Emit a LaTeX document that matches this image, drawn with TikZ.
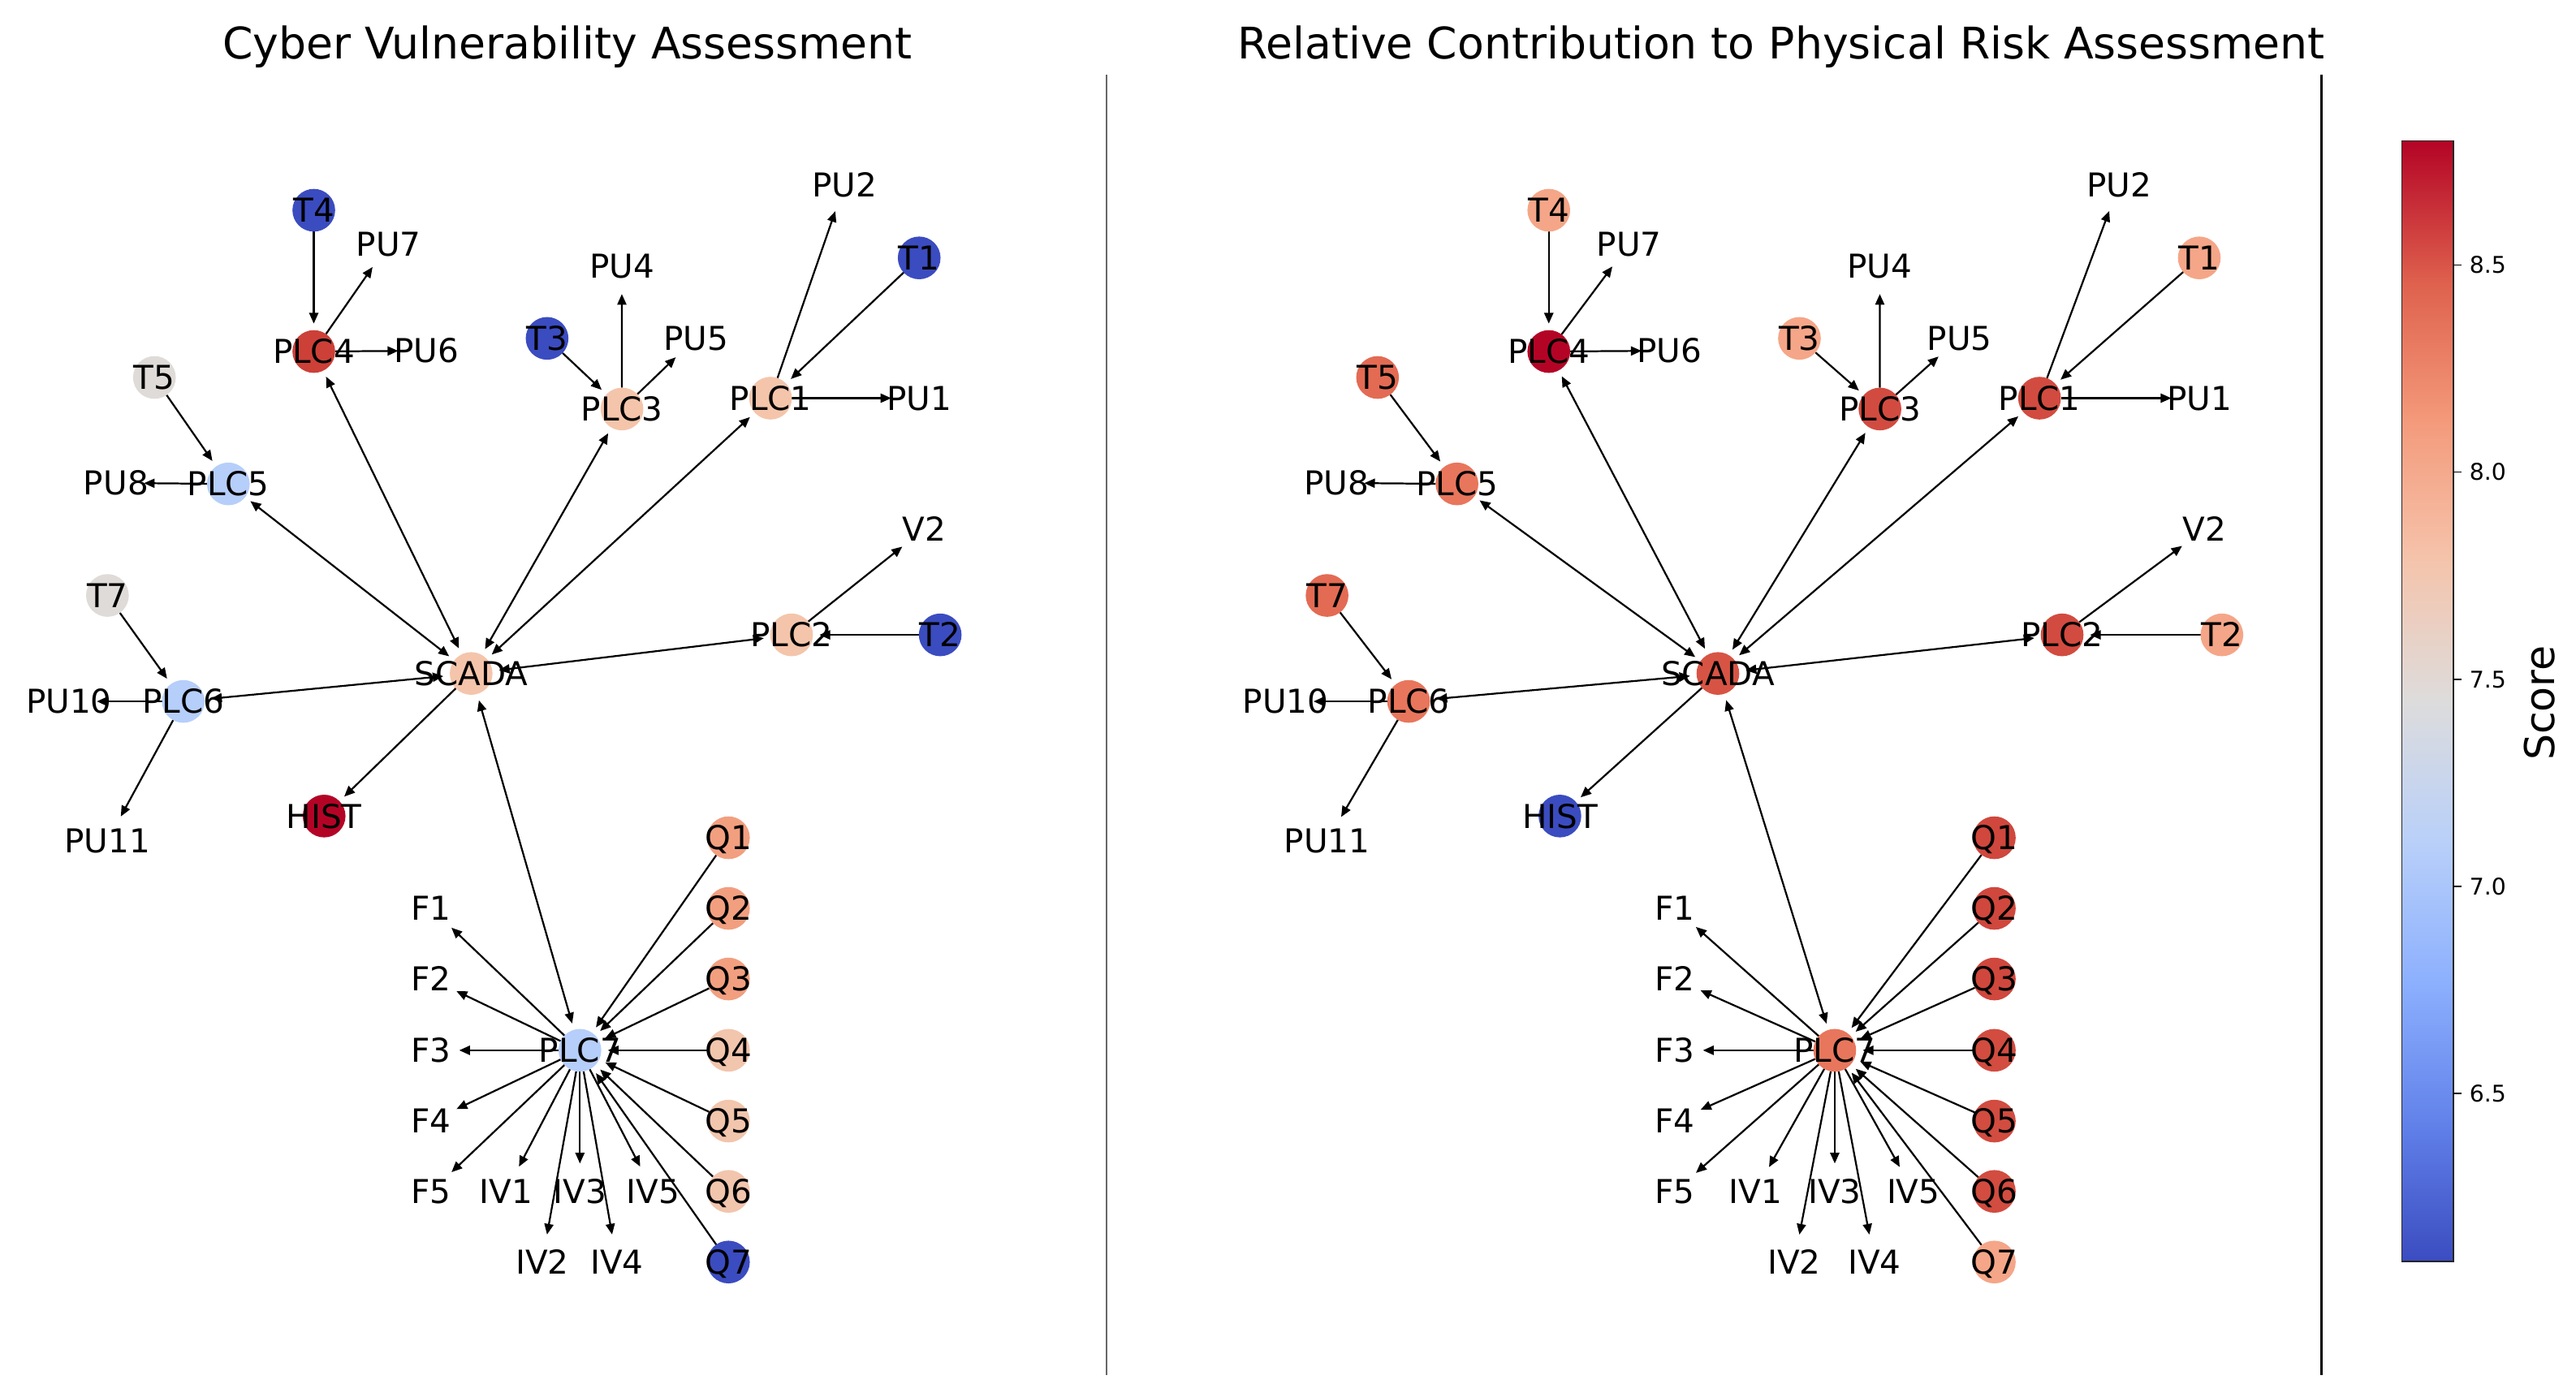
\documentclass[tikz,border=0pt]{standalone}
\usepackage{fontspec}
\setmainfont{DejaVu Sans}
\usetikzlibrary{arrows.meta,backgrounds}
% left panel colours
\definecolor{LT1}{HTML}{3B4CC0}\definecolor{LT2}{HTML}{3B4CC0}\definecolor{LT3}{HTML}{3B4CC0}\definecolor{LT4}{HTML}{3B4CC0}
\definecolor{LQ7}{HTML}{3B4CC0}\definecolor{LHIST}{HTML}{B40426}\definecolor{LPLC4}{HTML}{CC4038}
\definecolor{LSCADA}{HTML}{F4C5AB}\definecolor{LPLC1}{HTML}{F4C5AB}\definecolor{LPLC2}{HTML}{F4C5AB}\definecolor{LPLC3}{HTML}{F4C5AB}
\definecolor{LQ4}{HTML}{F2C5AD}\definecolor{LQ5}{HTML}{F2C5AD}\definecolor{LQ6}{HTML}{F2C5AD}
\definecolor{LQ1}{HTML}{F29F80}\definecolor{LQ2}{HTML}{F29F80}\definecolor{LQ3}{HTML}{F29F80}
\definecolor{LT5}{HTML}{DFDBD8}\definecolor{LT7}{HTML}{DFDBD8}
\definecolor{LPLC5}{HTML}{B6CEFA}\definecolor{LPLC6}{HTML}{B6CEFA}\definecolor{LPLC7}{HTML}{B6CEFA}
% right panel colours
\definecolor{RT1}{HTML}{F5A688}\definecolor{RT2}{HTML}{F5A688}\definecolor{RT3}{HTML}{F5A688}\definecolor{RT4}{HTML}{F5A688}
\definecolor{RQ7}{HTML}{F5A688}\definecolor{RHIST}{HTML}{3B4CC0}\definecolor{RPLC4}{HTML}{B40426}
\definecolor{RSCADA}{HTML}{D75445}\definecolor{RPLC1}{HTML}{D24B40}\definecolor{RPLC2}{HTML}{D24B40}\definecolor{RPLC3}{HTML}{D24B40}
\definecolor{RQ4}{HTML}{D24C40}\definecolor{RQ5}{HTML}{D24C40}\definecolor{RQ6}{HTML}{D24C40}
\definecolor{RQ1}{HTML}{D0473D}\definecolor{RQ2}{HTML}{D0473D}\definecolor{RQ3}{HTML}{D0473D}
\definecolor{RT5}{HTML}{E36B54}\definecolor{RT7}{HTML}{E36B54}
\definecolor{RPLC5}{HTML}{E8765C}\definecolor{RPLC6}{HTML}{E8765C}\definecolor{RPLC7}{HTML}{E8765C}
% coolwarm
\definecolor{cw0}{RGB}{59,76,192}\definecolor{cw1}{RGB}{98,130,234}\definecolor{cw2}{RGB}{141,176,254}
\definecolor{cw3}{RGB}{185,208,249}\definecolor{cw4}{RGB}{221,220,220}\definecolor{cw5}{RGB}{245,196,172}
\definecolor{cw6}{RGB}{244,154,123}\definecolor{cw7}{RGB}{222,96,77}\definecolor{cw8}{RGB}{180,4,38}

\tikzset{
  vx/.style={circle, minimum size=26pt, inner sep=0pt, outer sep=0pt},
  lbl/.style={font=\fontsize{20}{24}\selectfont, inner sep=0pt, outer sep=0pt, text height=14.6pt, text depth=0pt},
  arr/.style={line width=1.1pt, -{Triangle[length=6.5pt,width=5.5pt]}, shorten >=4pt},
  biarr/.style={line width=1.1pt, {Triangle[length=6.5pt,width=5.5pt]}-{Triangle[length=6.5pt,width=5.5pt]}, shorten >=4pt, shorten <=4pt},
  ttl/.style={font=\fontsize{26.5}{32}\selectfont, inner sep=0pt, anchor=base},
  tick/.style={font=\fontsize{14}{17}\selectfont, inner sep=0pt, anchor=west, text height=10.2pt, text depth=0pt}
}

\newcommand{\drawpanel}[1]{%
\node[vx,fill=#1T4,label={[lbl]center:T4}] (#1T4) at (191,128) {};
\node[vx,label={[lbl]center:PU7}] (#1PU7) at (236.5,148.6) {};
\node[vx,fill=#1PLC4,label={[lbl]center:PLC4}] (#1PLC4) at (191,214) {};
\node[vx,label={[lbl]center:PU6}] (#1PU6) at (259.4,213.5) {};
\node[vx,fill=#1T3,label={[lbl]center:T3}] (#1T3) at (333,206) {};
\node[vx,label={[lbl]center:PU4}] (#1PU4) at (378.5,162) {};
\node[vx,label={[lbl]center:PU5}] (#1PU5) at (423.6,205.7) {};
\node[vx,fill=#1PLC3,label={[lbl]center:PLC3}] (#1PLC3) at (378.6,249) {};
\node[vx,label={[lbl]center:PU2}] (#1PU2) at (514,112.5) {};
\node[vx,fill=#1T1,label={[lbl]center:T1}] (#1T1) at (559.5,157) {};
\node[vx,fill=#1PLC1,label={[lbl]center:PLC1}] (#1PLC1) at (469,242.4) {};
\node[vx,label={[lbl]center:PU1}] (#1PU1) at (559.5,242.4) {};
\node[vx,fill=#1T5,label={[lbl]center:T5}] (#1T5) at (94,229.8) {};
\node[vx,label={[lbl]center:PU8}] (#1PU8) at (70.6,294) {};
\node[vx,fill=#1PLC5,label={[lbl]center:PLC5}] (#1PLC5) at (139,294.6) {};
\node[vx,label={[lbl]center:V2}] (#1V2) at (562.5,322.2) {};
\node[vx,fill=#1T7,label={[lbl]center:T7}] (#1T7) at (65.4,362.5) {};
\node[vx,fill=#1PLC2,label={[lbl]center:PLC2}] (#1PLC2) at (481.8,386.5) {};
\node[vx,fill=#1T2,label={[lbl]center:T2}] (#1T2) at (572.3,386.5) {};
\node[vx,fill=#1SCADA,label={[lbl]center:SCADA}] (#1SCADA) at (286.8,410) {};
\node[vx,label={[lbl]center:PU10}] (#1PU10) at (41.9,427) {};
\node[vx,fill=#1PLC6,label={[lbl]center:PLC6}] (#1PLC6) at (111.6,427) {};
\node[vx,fill=#1HIST,label={[lbl]center:HIST}] (#1HIST) at (197.3,496.8) {};
\node[vx,label={[lbl]center:PU11}] (#1PU11) at (65.4,512) {};
\node[vx,fill=#1Q1,label={[lbl]center:Q1}] (#1Q1) at (443.4,510) {};
\node[vx,fill=#1Q2,label={[lbl]center:Q2}] (#1Q2) at (443.4,553) {};
\node[vx,fill=#1Q3,label={[lbl]center:Q3}] (#1Q3) at (443.4,596) {};
\node[vx,fill=#1Q4,label={[lbl]center:Q4}] (#1Q4) at (443.4,639.4) {};
\node[vx,fill=#1Q5,label={[lbl]center:Q5}] (#1Q5) at (443.4,682.5) {};
\node[vx,fill=#1Q6,label={[lbl]center:Q6}] (#1Q6) at (443.4,725.3) {};
\node[vx,fill=#1Q7,label={[lbl]center:Q7}] (#1Q7) at (443.4,768.3) {};
\node[vx,label={[lbl]center:F1}] (#1F1) at (262.5,553) {};
\node[vx,label={[lbl]center:F2}] (#1F2) at (262.5,596) {};
\node[vx,label={[lbl]center:F3}] (#1F3) at (262.5,639.4) {};
\node[vx,label={[lbl]center:F4}] (#1F4) at (262.5,682.5) {};
\node[vx,label={[lbl]center:F5}] (#1F5) at (262.5,725.3) {};
\node[vx,fill=#1PLC7,label={[lbl]center:PLC7}] (#1PLC7) at (353,639.4) {};
\node[vx,label={[lbl]center:IV1}] (#1IV1) at (308,725.3) {};
\node[vx,label={[lbl]center:IV2}] (#1IV2) at (330,768.3) {};
\node[vx,label={[lbl]center:IV3}] (#1IV3) at (353,725.3) {};
\node[vx,label={[lbl]center:IV4}] (#1IV4) at (375.5,768.3) {};
\node[vx,label={[lbl]center:IV5}] (#1IV5) at (397.5,725.3) {};
\begin{pgfonlayer}{background}
\draw[arr] (#1T4) -- (#1PLC4);
\draw[arr] (#1PLC4) -- (#1PU7);
\draw[arr] (#1PLC4) -- (#1PU6);
\draw[arr] (#1T3) -- (#1PLC3);
\draw[arr] (#1PLC3) -- (#1PU4);
\draw[arr] (#1PLC3) -- (#1PU5);
\draw[arr] (#1PLC1) -- (#1PU2);
\draw[arr] (#1T1) -- (#1PLC1);
\draw[arr] (#1PLC1) -- (#1PU1);
\draw[arr] (#1T5) -- (#1PLC5);
\draw[arr] (#1PLC5) -- (#1PU8);
\draw[arr] (#1PLC2) -- (#1V2);
\draw[arr] (#1T2) -- (#1PLC2);
\draw[arr] (#1T7) -- (#1PLC6);
\draw[arr] (#1PLC6) -- (#1PU10);
\draw[arr] (#1PLC6) -- (#1PU11);
\draw[biarr] (#1SCADA) -- (#1PLC5);
\draw[biarr] (#1SCADA) -- (#1PLC4);
\draw[biarr] (#1SCADA) -- (#1PLC3);
\draw[biarr] (#1SCADA) -- (#1PLC1);
\draw[biarr] (#1SCADA) -- (#1PLC2);
\draw[biarr] (#1SCADA) -- (#1PLC6);
\draw[arr] (#1SCADA) -- (#1HIST);
\draw[biarr] (#1SCADA) -- (#1PLC7);
\draw[arr] (#1PLC7) -- (#1F1);
\draw[arr] (#1PLC7) -- (#1F2);
\draw[arr] (#1PLC7) -- (#1F3);
\draw[arr] (#1PLC7) -- (#1F4);
\draw[arr] (#1PLC7) -- (#1F5);
\draw[arr] (#1PLC7) -- (#1IV1);
\draw[arr] (#1PLC7) -- (#1IV2);
\draw[arr] (#1PLC7) -- (#1IV3);
\draw[arr] (#1PLC7) -- (#1IV4);
\draw[arr] (#1PLC7) -- (#1IV5);
\draw[arr] (#1Q1) -- (#1PLC7);
\draw[arr] (#1Q2) -- (#1PLC7);
\draw[arr] (#1Q3) -- (#1PLC7);
\draw[arr] (#1Q4) -- (#1PLC7);
\draw[arr] (#1Q5) -- (#1PLC7);
\draw[arr] (#1Q6) -- (#1PLC7);
\draw[arr] (#1Q7) -- (#1PLC7);
\end{pgfonlayer}%
}

\begin{document}
\begin{tikzpicture}[x=1pt,y=-1pt]
\useasboundingbox (0,0) rectangle (1568,850);
% titles
\node[ttl] (t1) at (345.5,36) {Cyber Vulnerability Assessment};
\node[ttl] (t2) at (1084.3,36) {Relative Contribution to Physical Risk Assessment};
% separators
\draw[line width=1.3pt, color=black!60] (673.6,45.5) -- (673.6,837);
\draw[line width=1.2pt, color=black] (1413,45.5) -- (1413,837);
% panels
\drawpanel{L}
\begin{scope}[x=1.0745pt, xshift=737.5pt]
\drawpanel{R}
\end{scope}
% colour bar
\shade[bottom color=cw0, top color=cw1] (1462,768) rectangle (1493.4,682.2);
\shade[bottom color=cw1, top color=cw2] (1462,683.2) rectangle (1493.4,596.9);
\shade[bottom color=cw2, top color=cw3] (1462,597.9) rectangle (1493.4,511.6);
\shade[bottom color=cw3, top color=cw4] (1462,512.6) rectangle (1493.4,426.3);
\shade[bottom color=cw4, top color=cw5] (1462,427.3) rectangle (1493.4,341.0);
\shade[bottom color=cw5, top color=cw6] (1462,342.0) rectangle (1493.4,255.8);
\shade[bottom color=cw6, top color=cw7] (1462,256.8) rectangle (1493.4,170.5);
\shade[bottom color=cw7, top color=cw8] (1462,171.5) rectangle (1493.4,85.7);
\draw[line width=0.9pt, color=black!85] (1462,85.7) rectangle (1493.4,768);
\foreach \yy/\vv [count=\i] in {161.4/8.5, 287.4/8.0, 413.5/7.5, 539.5/7.0, 665.6/6.5}{
  \draw[line width=0.8pt] (1493.4,\yy) -- (1498.5,\yy);
  \node[tick] (tk\i) at (1503,\yy) {\vv};
}
\node[rotate=90, font=\fontsize{25}{30}\selectfont, inner sep=0pt, text height=18.2pt, text depth=0pt] (score) at (1546,428) {Score};
\end{tikzpicture}
\end{document}
